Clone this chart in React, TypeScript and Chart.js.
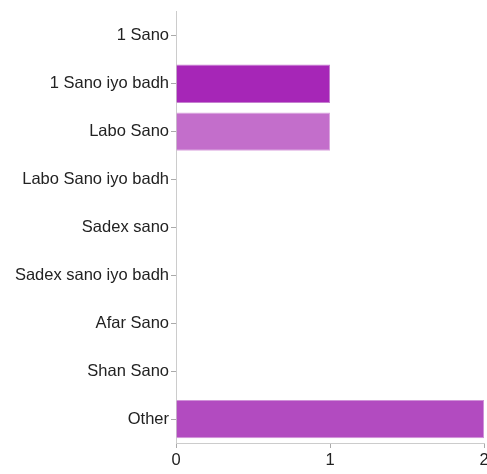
import React, { useEffect, useRef } from "react";
import { Chart, registerables } from "chart.js";

Chart.register(...registerables);

const categories = [
  "1 Sano",
  "1 Sano iyo badh",
  "Labo Sano",
  "Labo Sano iyo badh",
  "Sadex sano",
  "Sadex sano iyo badh",
  "Afar Sano",
  "Shan Sano",
  "Other",
];
const values = [0, 1, 1, 0, 0, 0, 0, 0, 2];
const barColors = [
  "#a626b7",
  "#a626b7",
  "#c36ecb",
  "#b24bc0",
  "#b24bc0",
  "#b24bc0",
  "#b24bc0",
  "#b24bc0",
  "#b24bc0",
];
const borderColors = [
  "#c57fd0",
  "#c57fd0",
  "#dba6e0",
  "#d092d8",
  "#d092d8",
  "#d092d8",
  "#d092d8",
  "#d092d8",
  "#d092d8",
];
const xTicks = [0, 1, 2];

export default function App() {
  const ref = useRef<HTMLCanvasElement | null>(null);
  useEffect(() => {
    if (!ref.current) return;
    const chart = new Chart(ref.current, {
      type: "bar",
      data: {
        labels: categories,
        datasets: [
          {
            data: values,
            backgroundColor: barColors,
            borderColor: borderColors,
            borderWidth: 1,
            categoryPercentage: 1,
            barPercentage: 0.8,
          },
        ],
      },
      options: {
        indexAxis: "y",
        animation: false,
        responsive: false,
        maintainAspectRatio: false,
        layout: { padding: { top: 9, right: 3, bottom: 0, left: 0 } },
        plugins: { legend: { display: false }, tooltip: { enabled: false } },
        scales: {
          x: {
            min: 0,
            max: 2,
            afterBuildTicks: (scale: any) => {
              scale.ticks = xTicks.map((v) => ({ value: v }));
            },
            afterFit: (scale: any) => {
              scale.height = 31;
              scale.paddingLeft = 0;
              scale.paddingRight = 0;
            },
            grid: {
              display: true,
              drawOnChartArea: false,
              drawTicks: true,
              tickLength: 5,
              color: "#aaaaaa",
            },
            border: { display: true, color: "#cccccc", width: 1 },
            ticks: {
              color: "#222222",
              font: { family: "Liberation Sans", size: 16.5 },
              padding: 3,
              maxRotation: 0,
            },
          },
          y: {
            afterFit: (scale: any) => {
              scale.width = 176;
            },
            grid: {
              display: true,
              offset: false,
              drawOnChartArea: false,
              drawTicks: true,
              tickLength: 5,
              color: "#aaaaaa",
            },
            border: { display: true, color: "#cccccc", width: 1 },
            ticks: {
              color: "#222222",
              font: { family: "Liberation Sans", size: 16.5 },
              padding: 2,
            },
          },
        },
      },
    });
    return () => chart.destroy();
  }, []);
  return (
    <div style={{ position: "fixed", left: 0, top: 0, width: 487, height: 474, background: "#fff" }}>
      <canvas ref={ref} width={487} height={474} style={{ width: 487, height: 474 }} />
    </div>
  );
}
